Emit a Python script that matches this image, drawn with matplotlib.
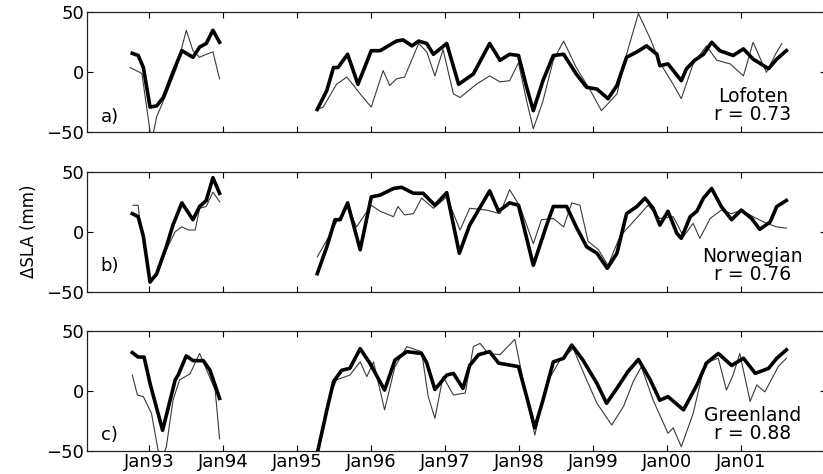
import numpy as np
import matplotlib.pyplot as plt

nan = np.nan

# decimal years, NaN marks the data gap 1994-1995
# panel a) Lofoten
a_thick_t = [1992.77, 1992.85, 1992.92, 1993.01, 1993.10, 1993.19, 1993.32, 1993.44, 1993.59, 1993.68,
             1993.77, 1993.86, 1993.95, nan,
             1995.27, 1995.40, 1995.49, 1995.55, 1995.68, 1995.82, 1996.00, 1996.12, 1996.34, 1996.43,
             1996.55, 1996.64, 1996.75, 1996.84, 1997.02, 1997.18, 1997.38, 1997.60, 1997.74, 1997.87,
             1997.99, 1998.10, 1998.19, 1998.32, 1998.46, 1998.60, 1998.77, 1998.91, 1999.05, 1999.20,
             1999.32, 1999.45, 1999.59, 1999.72, 1999.86, 1999.90, 2000.01, 2000.19, 2000.26, 2000.37,
             2000.49, 2000.60, 2000.71, 2000.89, 2001.03, 2001.16, 2001.37, 2001.48, 2001.61]
a_thick_v = [15.8, 14, 4, -29, -28, -21, 0, 18, 12.5, 21, 24, 35, 25, nan,
             -31, -15, 4, 4, 15, -10, 18, 18, 26, 27, 22, 26, 24, 15, 24, -10, -1.4, 24, 10, 15,
             14, -12.5, -32, -7, 14, 15, -1.4, -12.5, -14, -22, -11, 12.5, 17, 22, 15, 5.5, 7, -7, 3, 10,
             15, 25, 18, 14, 19.5, 11, 3, 11, 18]
a_thin_t = [1992.74, 1992.90, 1993.03, 1993.10, 1993.23, 1993.37, 1993.50, 1993.59, 1993.68, 1993.77,
            1993.86, 1993.95, nan,
            1995.27, 1995.35, 1995.53, 1995.67, 1995.85, 1996.00, 1996.16, 1996.25, 1996.34, 1996.45,
            1996.64, 1996.75, 1996.86, 1996.97, 1997.11, 1997.20, 1997.42, 1997.60, 1997.74, 1997.87,
            1997.99, 1998.10, 1998.19, 1998.32, 1998.46, 1998.60, 1998.77, 1998.96, 1999.11, 1999.32,
            1999.45, 1999.61, 1999.77, 1999.90, 2000.08, 2000.19, 2000.35, 2000.53, 2000.67, 2000.85,
            2001.03, 2001.16, 2001.34, 2001.48, 2001.55]
a_thin_v = [4, -1, -58, -37, -18, 4, 35, 18, 12.5, 15, 17, -5.5, nan,
            -31, -29, -10, -4, -18, -29, 1.4, -11, -5.5, -4, 24, 17, -3, 19, -18, -21, -10, -3, -8, -7,
            8, -24, -47, -24, 10, 26, 4, -15, -32, -18, 15, 49, 28, 8, -10, -22, 7, 22, 10, 7,
            -3, 25, 0, 17, 24]

# panel b) Norwegian
b_thick_t = [1992.77, 1992.85, 1992.92, 1993.01, 1993.10, 1993.23, 1993.32, 1993.44, 1993.59, 1993.68,
             1993.77, 1993.86, 1993.95, nan,
             1995.27, 1995.40, 1995.51, 1995.58, 1995.68, 1995.85, 1996.00, 1996.12, 1996.30, 1996.41,
             1996.57, 1996.70, 1996.86, 1997.02, 1997.19, 1997.33, 1997.60, 1997.72, 1997.87, 1997.99,
             1998.19, 1998.37, 1998.46, 1998.64, 1998.77, 1998.91, 1999.05, 1999.19, 1999.32, 1999.45,
             1999.59, 1999.70, 1999.81, 1999.90, 2000.01, 2000.13, 2000.19, 2000.31, 2000.40, 2000.49,
             2000.60, 2000.73, 2000.87, 2001.00, 2001.14, 2001.25, 2001.39, 2001.48, 2001.61]
b_thick_v = [15, 12.5, -4, -42, -35, -12.5, 5.5, 24, 10, 21, 26, 45, 32, nan,
             -35, -12.5, 10, 10, 24, -15, 29, 30.5, 36, 37, 32, 32, 22, 32.5, -18, 5.5, 34, 17, 24, 22,
             -28, 5.5, 21, 21, 4, -12.5, -18, -30.5, -18, 15, 21, 28, 19.5, 5.5, 17, -1.4, -5.5, 12.5, 17, 28,
             36, 21, 10, 18, 11, 2, 8, 21, 26]
b_thin_t = [1992.78, 1992.85, 1992.87, 1993.01, 1993.10, 1993.23, 1993.35, 1993.44, 1993.53, 1993.62,
            1993.68, 1993.77, 1993.86, 1993.95, nan,
            1995.27, 1995.40, 1995.53, 1995.68, 1995.80, 1996.00, 1996.12, 1996.30, 1996.36, 1996.45,
            1996.57, 1996.68, 1996.84, 1997.02, 1997.20, 1997.33, 1997.56, 1997.74, 1997.87, 1998.01,
            1998.19, 1998.30, 1998.46, 1998.60, 1998.71, 1998.82, 1998.93, 1999.07, 1999.20, 1999.36,
            1999.50, 1999.74, 1999.90, 2000.08, 2000.22, 2000.35, 2000.44, 2000.58, 2000.73, 2000.87,
            2001.00, 2001.16, 2001.34, 2001.48, 2001.61]
b_thin_v = [22, 22, 10, -40, -37, -15, 0, 4, 1.4, 1.4, 19.5, 21, 33, 25, nan,
            -21, -7, 8, 21, 4, 22, 17, 12.5, 21, 14, 15, 28, 19.5, 29, 1.4, 19.5, 18, 15, 35, 21,
            -10, 10, 11, 4, 24, 22, -8, -15, -28, -4, 5.5, 22, 11, 12.5, -4, 7, -5.5, 11, 18, 15,
            18, 12.5, 7, 4, 3]

# panel c) Greenland
c_thick_t = [1992.77, 1992.85, 1992.93, 1993.01, 1993.18, 1993.35, 1993.39, 1993.50, 1993.59, 1993.73,
             1993.82, 1993.95, nan,
             1995.26, 1995.40, 1995.49, 1995.60, 1995.71, 1995.85, 1995.98, 1996.18, 1996.32, 1996.48,
             1996.68, 1996.75, 1996.86, 1997.02, 1997.11, 1997.24, 1997.33, 1997.45, 1997.60, 1997.72,
             1997.99, 1998.10, 1998.21, 1998.32, 1998.46, 1998.60, 1998.71, 1998.86, 1999.05, 1999.18,
             1999.32, 1999.47, 1999.61, 1999.77, 1999.90, 2000.01, 2000.22, 2000.40, 2000.53, 2000.69,
             2000.87, 2001.03, 2001.19, 2001.37, 2001.48, 2001.61]
c_thick_v = [31.7, 28, 28, 6, -33, 9, 13, 29, 25, 25, 17, -6.4, nan,
             -55, -16, 7.5, 17, 18.6, 35, 23, 0.5, 25.5, 32.5, 31, 23, 1, 13, 14.4, 2, 21, 30, 32.5, 23,
             20, -5, -31, -8, 24, 27, 38, 25.5, 6, -10.5, 2, 16, 26, 9, -8, -5, -16, 4.7, 23, 31,
             21, 27, 14.4, 18.6, 27, 34]
c_thin_t = [1992.77, 1992.84, 1992.92, 1993.03, 1993.12, 1993.18, 1993.23, 1993.32, 1993.41, 1993.55,
            1993.68, 1993.75, 1993.89, 1993.95, nan,
            1995.26, 1995.44, 1995.53, 1995.71, 1995.85, 1995.94, 1996.03, 1996.18, 1996.32, 1996.48,
            1996.68, 1996.77, 1996.86, 1996.97, 1997.11, 1997.27, 1997.38, 1997.47, 1997.58, 1997.74,
            1997.94, 1998.08, 1998.21, 1998.37, 1998.55, 1998.73, 1998.91, 1999.05, 1999.25, 1999.41,
            1999.54, 1999.65, 1999.81, 2000.01, 2000.08, 2000.19, 2000.35, 2000.51, 2000.69, 2000.80,
            2000.89, 2000.98, 2001.12, 2001.21, 2001.32, 2001.50, 2001.61]
c_thin_v = [13, -3.6, -5, -19, -50, -55, -47, -8, 9, 14, 31, 21, 0.5, -40, nan,
            -55, -5, 9, 13, 24, 11.7, 24, -16, 20, 36.7, 32.5, -5, -23, 11.7, -3.6, -2, 36.7, 39.4, 31, 30,
            42.8, 0.5, -37, 6, 25.5, 35, 9, -10.5, -28.6, -13, 7.5, 20, -8, -35.5, -31, -46.7, -19, 23, 27, 0.5,
            13, 31, -9, 4.7, -1, 20, 27]

panels = [
    (a_thick_t, a_thick_v, a_thin_t, a_thin_v, 'a)', 'Lofoten', 'r = 0.73', 0.13),
    (b_thick_t, b_thick_v, b_thin_t, b_thin_v, 'b)', 'Norwegian', 'r = 0.76', 0.21),
    (c_thick_t, c_thick_v, c_thin_t, c_thin_v, 'c)', 'Greenland', 'r = 0.88', 0.13),
]

years = list(range(1993, 2002))
year_labels = ['Jan%02d' % (y % 100) for y in years]

plt.rcParams['font.family'] = 'DejaVu Sans'
plt.rcParams['font.size'] = 13

fig = plt.figure(figsize=(8.23, 4.74), dpi=100)
bottoms = [0.7209, 0.3846, 0.0492]

for i, (tk, vk, tn, vn, tag, name, rtxt, tag_y) in enumerate(panels):
    ax = fig.add_axes([0.1057, bottoms[i], 0.8979, 0.2532])
    ax.plot(tn, vn, color='#3a3a3a', lw=0.8)
    ax.plot(tk, vk, color='black', lw=2.6, solid_joinstyle='round')
    ax.set_xlim(1992.158, 2002.145)
    ax.set_ylim(-50, 50)
    ax.set_yticks([-50, 0, 50])
    ax.set_xticks(years)
    if i == 2:
        ax.set_xticklabels(year_labels)
    else:
        ax.set_xticklabels([])
    ax.tick_params(direction='in', top=True, right=True, length=4, width=0.8, pad=2,
                   labelsize=13)
    for s in ax.spines.values():
        s.set_linewidth(0.9)
        s.set_color('#222222')
    ax.text(0.0185, tag_y, tag, transform=ax.transAxes, ha='left', va='center', fontsize=13)
    ax.text(0.901, 0.296, name, transform=ax.transAxes, ha='center', va='center', fontsize=13.5)
    ax.text(0.901, 0.146, rtxt, transform=ax.transAxes, ha='center', va='center', fontsize=13.5)
    if i == 1:
        ax.set_ylabel('ΔSLA (mm)', fontsize=12, labelpad=6)

fig.savefig('out.png', dpi=100)
